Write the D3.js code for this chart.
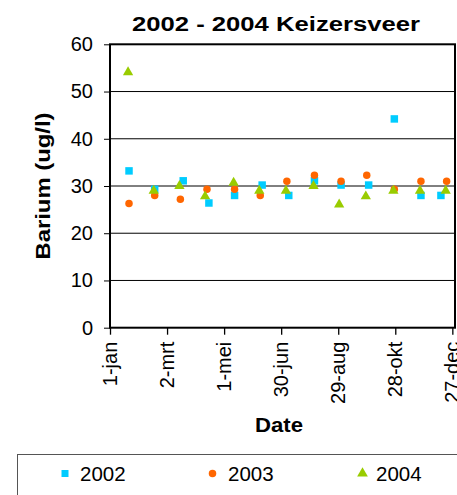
<!DOCTYPE html>
<html>
<head>
<meta charset="utf-8">
<script src="https://cdn.jsdelivr.net/npm/d3@7"></script>
<style>
  html, body { margin: 0; padding: 0; background: #fff; }
  svg { display: block; font-family: "Liberation Sans", Arial, sans-serif; }
</style>
</head>
<body>
<svg id="chart" width="457" height="495"></svg>
<script>
// ---- data (day offsets from 1 January) ----
const days2002 = [20, 47, 77, 104, 131, 160, 188, 215, 243, 272, 299, 327, 348];
const vals2002 = [33.2, 29.3, 31.1, 26.4, 28.0, 30.2, 28.0, 31.1, 30.2, 30.2, 44.2, 28.0, 28.0];
const days2003 = [20, 47, 74, 102, 131, 158, 186, 215, 243, 270, 299, 327, 354];
const vals2003 = [26.3, 28.0, 27.2, 29.3, 29.3, 28.0, 31.0, 32.3, 31.0, 32.3, 29.3, 31.0, 31.0];
const days2004 = [19, 46, 73, 100, 130, 157, 185, 214, 241, 269, 298, 326, 353];
const vals2004 = [54.1, 29.0, 30.0, 27.8, 30.7, 29.0, 29.0, 30.0, 26.1, 27.8, 29.0, 29.0, 29.0];
const seriesNames = ["2002", "2003", "2004"];
const xTickValues = [0, 60, 120, 180, 240, 300, 360];
const xTickLabels = ["1-jan", "2-mrt", "1-mei", "30-jun", "29-aug", "28-okt", "27-dec"];
const yTickValues = [0, 10, 20, 30, 40, 50, 60];
const titleText = "2002 - 2004 Keizersveer";
const xTitle = "Date";
const yTitle = "Barium (ug/l)";

const colors = ["#00CCFF", "#FF6600", "#99CC00"];
const shapes = [d3.symbolSquare, d3.symbolCircle, d3.symbolTriangle];
const sizes = [56, 44, 46];

const svg = d3.select("#chart");
const plot = { left: 110, right: 455, top: 44.3, bottom: 327.7 };

const x = d3.scaleLinear().domain([0, 362.8]).range([plot.left, plot.right]);
const y = d3.scaleLinear().domain([0, 60]).range([plot.bottom, plot.top]);

// gridlines
svg.append("g")
  .selectAll("line")
  .data(yTickValues.filter(v => v > 0 && v < 60))
  .join("line")
  .attr("x1", plot.left).attr("x2", plot.right)
  .attr("y1", d => y(d)).attr("y2", d => y(d))
  .attr("stroke", "#000").attr("stroke-width", 1);

// plot border
svg.append("rect")
  .attr("x", plot.left).attr("y", plot.top)
  .attr("width", plot.right - plot.left).attr("height", plot.bottom - plot.top)
  .attr("fill", "none").attr("stroke", "#000").attr("stroke-width", 2);

// y axis
const yAxis = d3.axisLeft(y).tickValues(yTickValues).tickSize(6).tickPadding(11).tickFormat(d3.format("d"));
const gy = svg.append("g").attr("transform", `translate(${plot.left},0)`).call(yAxis);
gy.select(".domain").remove();
gy.selectAll("line").attr("stroke", "#000");
gy.selectAll("text").attr("font-size", 20).attr("fill", "#000")
  .attr("font-family", "Liberation Sans, Arial, sans-serif");

// x axis
const xAxis = d3.axisBottom(x).tickValues(xTickValues).tickSize(7)
  .tickFormat((d, i) => xTickLabels[i]);
const gx = svg.append("g").attr("transform", `translate(0,${plot.bottom})`).call(xAxis);
gx.select(".domain").remove();
gx.selectAll("line").attr("stroke", "#000").attr("stroke-width", 1.3);
gx.selectAll("text")
  .attr("font-size", 20).attr("fill", "#000")
  .attr("font-family", "Liberation Sans, Arial, sans-serif")
  .attr("text-anchor", "end")
  .attr("dy", null)
  .attr("y", null)
  .attr("transform", "translate(6,14) rotate(-90)");

// series
const allDays = [days2002, days2003, days2004];
const allVals = [vals2002, vals2003, vals2004];
allDays.forEach((days, s) => {
  const data = days.map((d, i) => ({ d, v: allVals[s][i] }));
  svg.append("g")
    .selectAll("path")
    .data(data)
    .join("path")
    .attr("transform", p => `translate(${x(p.d)},${y(p.v)})`)
    .attr("d", d3.symbol().type(shapes[s]).size(sizes[s]))
    .attr("fill", colors[s]);
});

// title
svg.append("text")
  .attr("x", 276).attr("y", 30.5)
  .attr("text-anchor", "middle")
  .attr("font-size", 20).attr("font-weight", "bold")
  .attr("textLength", 288).attr("lengthAdjust", "spacingAndGlyphs")
  .text(titleText);

// x title
svg.append("text")
  .attr("x", 279).attr("y", 431.5)
  .attr("text-anchor", "middle")
  .attr("font-size", 21).attr("font-weight", "bold")
  .attr("textLength", 48).attr("lengthAdjust", "spacingAndGlyphs")
  .text(xTitle);

// y title
svg.append("text")
  .attr("transform", `translate(50,${(plot.top + plot.bottom) / 2}) rotate(-90)`)
  .attr("text-anchor", "middle")
  .attr("font-size", 20).attr("font-weight", "bold")
  .attr("textLength", 147).attr("lengthAdjust", "spacingAndGlyphs")
  .text(yTitle);

// legend
const legend = svg.append("g");
legend.append("rect")
  .attr("x", 17.5).attr("y", 454.5).attr("width", 460).attr("height", 60)
  .attr("fill", "#fff").attr("stroke", "#555").attr("stroke-width", 1);
const legX = [65, 212.5, 362.5];
const legTextX = [80, 228, 376];
const legSizes = [49, 44, 50];
seriesNames.forEach((name, i) => {
  legend.append("path")
    .attr("transform", `translate(${legX[i]},473.5)`)
    .attr("d", d3.symbol().type(shapes[i]).size(legSizes[i]))
    .attr("fill", colors[i]);
  legend.append("text")
    .attr("x", legTextX[i]).attr("y", 480.5)
    .attr("font-size", 20.5)
    .text(name);
});
</script>
</body>
</html>
